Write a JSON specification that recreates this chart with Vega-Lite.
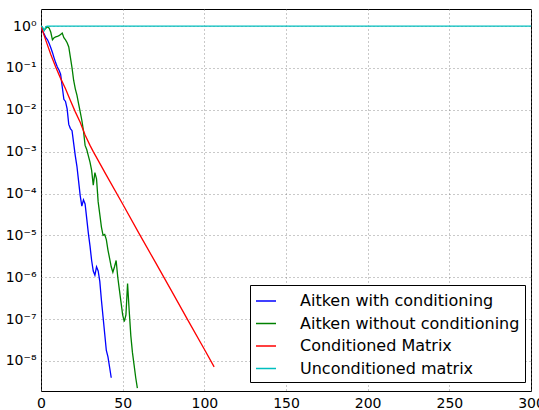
{
  "$schema": "https://vega.github.io/schema/vega-lite/v6.json",
  "autosize": "none",
  "padding": {"left": 41, "top": 9, "right": 8, "bottom": 19},
  "width": 490,
  "height": 382,
  "config": {
    "font": "DejaVu Sans",
    "view": {"stroke": "#000", "strokeWidth": 1},
    "axis": {
      "labelFont": "DejaVu Sans", "labelFontSize": 14, "labelColor": "#000",
      "ticks": false, "domain": false,
      "grid": true, "gridColor": "#777", "gridDash": [1, 3], "gridWidth": 0.8, "gridOpacity": 1,
      "title": null
    }
  },
  "data": {"values": [
    {"series": "Aitken with conditioning", "iter": 0, "value": 1},
    {"series": "Aitken with conditioning", "iter": 1, "value": 0.759},
    {"series": "Aitken with conditioning", "iter": 2, "value": 0.631},
    {"series": "Aitken with conditioning", "iter": 3, "value": 0.525},
    {"series": "Aitken with conditioning", "iter": 4, "value": 0.468},
    {"series": "Aitken with conditioning", "iter": 5, "value": 0.380},
    {"series": "Aitken with conditioning", "iter": 6, "value": 0.302},
    {"series": "Aitken with conditioning", "iter": 7, "value": 0.234},
    {"series": "Aitken with conditioning", "iter": 8, "value": 0.174},
    {"series": "Aitken with conditioning", "iter": 9, "value": 0.132},
    {"series": "Aitken with conditioning", "iter": 10, "value": 0.105},
    {"series": "Aitken with conditioning", "iter": 11, "value": 0.0891},
    {"series": "Aitken with conditioning", "iter": 12, "value": 0.0708},
    {"series": "Aitken with conditioning", "iter": 13, "value": 0.0355},
    {"series": "Aitken with conditioning", "iter": 14, "value": 0.0178},
    {"series": "Aitken with conditioning", "iter": 15, "value": 0.0158},
    {"series": "Aitken with conditioning", "iter": 16, "value": 0.0105},
    {"series": "Aitken with conditioning", "iter": 17, "value": 0.00447},
    {"series": "Aitken with conditioning", "iter": 18, "value": 0.00355},
    {"series": "Aitken with conditioning", "iter": 19, "value": 0.00316},
    {"series": "Aitken with conditioning", "iter": 20, "value": 0.00158},
    {"series": "Aitken with conditioning", "iter": 21, "value": 7.94e-4},
    {"series": "Aitken with conditioning", "iter": 22, "value": 4.47e-4},
    {"series": "Aitken with conditioning", "iter": 23, "value": 2.0e-4},
    {"series": "Aitken with conditioning", "iter": 24, "value": 8.91e-5},
    {"series": "Aitken with conditioning", "iter": 25, "value": 5.01e-5},
    {"series": "Aitken with conditioning", "iter": 26, "value": 7.08e-5},
    {"series": "Aitken with conditioning", "iter": 27, "value": 5.62e-5},
    {"series": "Aitken with conditioning", "iter": 28, "value": 2.51e-5},
    {"series": "Aitken with conditioning", "iter": 29, "value": 1.12e-5},
    {"series": "Aitken with conditioning", "iter": 30, "value": 5.62e-6},
    {"series": "Aitken with conditioning", "iter": 31, "value": 2.51e-6},
    {"series": "Aitken with conditioning", "iter": 32, "value": 1.41e-6},
    {"series": "Aitken with conditioning", "iter": 33, "value": 1.12e-6},
    {"series": "Aitken with conditioning", "iter": 34, "value": 1.78e-6},
    {"series": "Aitken with conditioning", "iter": 35, "value": 1.41e-6},
    {"series": "Aitken with conditioning", "iter": 36, "value": 7.94e-7},
    {"series": "Aitken with conditioning", "iter": 37, "value": 2.82e-7},
    {"series": "Aitken with conditioning", "iter": 38, "value": 1.12e-7},
    {"series": "Aitken with conditioning", "iter": 39, "value": 4.47e-8},
    {"series": "Aitken with conditioning", "iter": 40, "value": 1.78e-8},
    {"series": "Aitken with conditioning", "iter": 41, "value": 1.26e-8},
    {"series": "Aitken with conditioning", "iter": 42, "value": 7.08e-9},
    {"series": "Aitken with conditioning", "iter": 43, "value": 3.98e-9},
    {"series": "Aitken without conditioning", "iter": 0, "value": 1},
    {"series": "Aitken without conditioning", "iter": 1, "value": 0.891},
    {"series": "Aitken without conditioning", "iter": 2, "value": 0.794},
    {"series": "Aitken without conditioning", "iter": 3, "value": 0.891},
    {"series": "Aitken without conditioning", "iter": 4, "value": 0.955},
    {"series": "Aitken without conditioning", "iter": 5, "value": 0.891},
    {"series": "Aitken without conditioning", "iter": 6, "value": 0.708},
    {"series": "Aitken without conditioning", "iter": 7, "value": 0.468},
    {"series": "Aitken without conditioning", "iter": 8, "value": 0.525},
    {"series": "Aitken without conditioning", "iter": 9, "value": 0.550},
    {"series": "Aitken without conditioning", "iter": 10, "value": 0.562},
    {"series": "Aitken without conditioning", "iter": 11, "value": 0.589},
    {"series": "Aitken without conditioning", "iter": 12, "value": 0.631},
    {"series": "Aitken without conditioning", "iter": 13, "value": 0.676},
    {"series": "Aitken without conditioning", "iter": 14, "value": 0.525},
    {"series": "Aitken without conditioning", "iter": 15, "value": 0.468},
    {"series": "Aitken without conditioning", "iter": 16, "value": 0.398},
    {"series": "Aitken without conditioning", "iter": 17, "value": 0.316},
    {"series": "Aitken without conditioning", "iter": 18, "value": 0.178},
    {"series": "Aitken without conditioning", "iter": 19, "value": 0.1},
    {"series": "Aitken without conditioning", "iter": 20, "value": 0.0501},
    {"series": "Aitken without conditioning", "iter": 21, "value": 0.0316},
    {"series": "Aitken without conditioning", "iter": 22, "value": 0.0224},
    {"series": "Aitken without conditioning", "iter": 23, "value": 0.0141},
    {"series": "Aitken without conditioning", "iter": 24, "value": 0.00891},
    {"series": "Aitken without conditioning", "iter": 25, "value": 0.00562},
    {"series": "Aitken without conditioning", "iter": 26, "value": 0.00316},
    {"series": "Aitken without conditioning", "iter": 27, "value": 0.00141},
    {"series": "Aitken without conditioning", "iter": 28, "value": 0.00112},
    {"series": "Aitken without conditioning", "iter": 29, "value": 7.94e-4},
    {"series": "Aitken without conditioning", "iter": 30, "value": 5.62e-4},
    {"series": "Aitken without conditioning", "iter": 31, "value": 3.55e-4},
    {"series": "Aitken without conditioning", "iter": 32, "value": 1.58e-4},
    {"series": "Aitken without conditioning", "iter": 33, "value": 3.16e-4},
    {"series": "Aitken without conditioning", "iter": 34, "value": 2.24e-4},
    {"series": "Aitken without conditioning", "iter": 35, "value": 6.31e-5},
    {"series": "Aitken without conditioning", "iter": 36, "value": 3.16e-5},
    {"series": "Aitken without conditioning", "iter": 37, "value": 1.58e-5},
    {"series": "Aitken without conditioning", "iter": 38, "value": 1.0e-5},
    {"series": "Aitken without conditioning", "iter": 39, "value": 1.05e-5},
    {"series": "Aitken without conditioning", "iter": 40, "value": 7.94e-6},
    {"series": "Aitken without conditioning", "iter": 41, "value": 4.47e-6},
    {"series": "Aitken without conditioning", "iter": 42, "value": 2.82e-6},
    {"series": "Aitken without conditioning", "iter": 43, "value": 1.78e-6},
    {"series": "Aitken without conditioning", "iter": 44, "value": 1.32e-6},
    {"series": "Aitken without conditioning", "iter": 45, "value": 1.78e-6},
    {"series": "Aitken without conditioning", "iter": 46, "value": 2.51e-6},
    {"series": "Aitken without conditioning", "iter": 47, "value": 1.0e-6},
    {"series": "Aitken without conditioning", "iter": 48, "value": 5.01e-7},
    {"series": "Aitken without conditioning", "iter": 49, "value": 2.51e-7},
    {"series": "Aitken without conditioning", "iter": 50, "value": 1.26e-7},
    {"series": "Aitken without conditioning", "iter": 51, "value": 8.71e-8},
    {"series": "Aitken without conditioning", "iter": 52, "value": 1.26e-7},
    {"series": "Aitken without conditioning", "iter": 53, "value": 7.08e-7},
    {"series": "Aitken without conditioning", "iter": 54, "value": 1.58e-7},
    {"series": "Aitken without conditioning", "iter": 55, "value": 3.98e-8},
    {"series": "Aitken without conditioning", "iter": 56, "value": 1.58e-8},
    {"series": "Aitken without conditioning", "iter": 57, "value": 7.94e-9},
    {"series": "Aitken without conditioning", "iter": 58, "value": 3.98e-9},
    {"series": "Aitken without conditioning", "iter": 59, "value": 2.24e-9},
    {"series": "Conditioned Matrix", "iter": 0, "value": 1},
    {"series": "Conditioned Matrix", "iter": 3, "value": 0.447},
    {"series": "Conditioned Matrix", "iter": 6, "value": 0.209},
    {"series": "Conditioned Matrix", "iter": 9, "value": 0.105},
    {"series": "Conditioned Matrix", "iter": 12, "value": 0.0562},
    {"series": "Conditioned Matrix", "iter": 15, "value": 0.0316},
    {"series": "Conditioned Matrix", "iter": 18, "value": 0.0166},
    {"series": "Conditioned Matrix", "iter": 21, "value": 0.00891},
    {"series": "Conditioned Matrix", "iter": 24, "value": 0.00501},
    {"series": "Conditioned Matrix", "iter": 27, "value": 0.00251},
    {"series": "Conditioned Matrix", "iter": 30, "value": 0.00141},
    {"series": "Conditioned Matrix", "iter": 32, "value": 0.001},
    {"series": "Conditioned Matrix", "iter": 40, "value": 2.75e-4},
    {"series": "Conditioned Matrix", "iter": 50, "value": 5.62e-5},
    {"series": "Conditioned Matrix", "iter": 60, "value": 1.12e-5},
    {"series": "Conditioned Matrix", "iter": 70, "value": 2.29e-6},
    {"series": "Conditioned Matrix", "iter": 80, "value": 4.68e-7},
    {"series": "Conditioned Matrix", "iter": 90, "value": 9.33e-8},
    {"series": "Conditioned Matrix", "iter": 100, "value": 1.91e-8},
    {"series": "Conditioned Matrix", "iter": 106, "value": 7.24e-9},
    {"series": "Unconditioned matrix", "iter": 0, "value": 1},
    {"series": "Unconditioned matrix", "iter": 1, "value": 0.93},
    {"series": "Unconditioned matrix", "iter": 2, "value": 0.78},
    {"series": "Unconditioned matrix", "iter": 3, "value": 0.97},
    {"series": "Unconditioned matrix", "iter": 4, "value": 0.99},
    {"series": "Unconditioned matrix", "iter": 50, "value": 0.99},
    {"series": "Unconditioned matrix", "iter": 100, "value": 0.99},
    {"series": "Unconditioned matrix", "iter": 150, "value": 0.99},
    {"series": "Unconditioned matrix", "iter": 200, "value": 0.99},
    {"series": "Unconditioned matrix", "iter": 250, "value": 0.99},
    {"series": "Unconditioned matrix", "iter": 300, "value": 0.99}
  ]},
  "mark": {"type": "line", "strokeWidth": 1.3, "clip": true},
  "encoding": {
    "x": {"field": "iter", "type": "quantitative",
      "scale": {"domain": [0, 300], "nice": false, "zero": false},
      "axis": {"values": [0, 50, 100, 150, 200, 250, 300], "labelPadding": 5, "labelFlush": false}},
    "y": {"field": "value", "type": "quantitative",
      "scale": {"type": "log", "domain": [1.92e-9, 2.55], "nice": false},
      "axis": {"values": [1e-8, 1e-7, 1e-6, 1e-5, 1e-4, 1e-3, 1e-2, 1e-1, 1],
        "labelPadding": 5,
        "labelExpr": "['10⁰','10⁻¹','10⁻²','10⁻³','10⁻⁴','10⁻⁵','10⁻⁶','10⁻⁷','10⁻⁸'][-round(log(datum.value)/LN10)]"}},
    "color": {"field": "series", "type": "nominal",
      "scale": {"domain": ["Aitken with conditioning", "Aitken without conditioning", "Conditioned Matrix", "Unconditioned matrix"],
        "range": ["#0000ff", "#008000", "#ff0000", "#00bfbf"]},
      "legend": {"orient": "none", "legendX": 209, "legendY": 276, "title": null,
        "symbolType": "stroke", "symbolSize": 400, "symbolStrokeWidth": 1.5,
        "labelFontSize": 16, "labelFont": "DejaVu Sans", "labelColor": "#000", "labelOffset": 23, "labelLimit": 400,
        "padding": 5, "rowPadding": 3.5, "fillColor": "#fff", "strokeColor": "#000", "cornerRadius": 0}}
  }
}
